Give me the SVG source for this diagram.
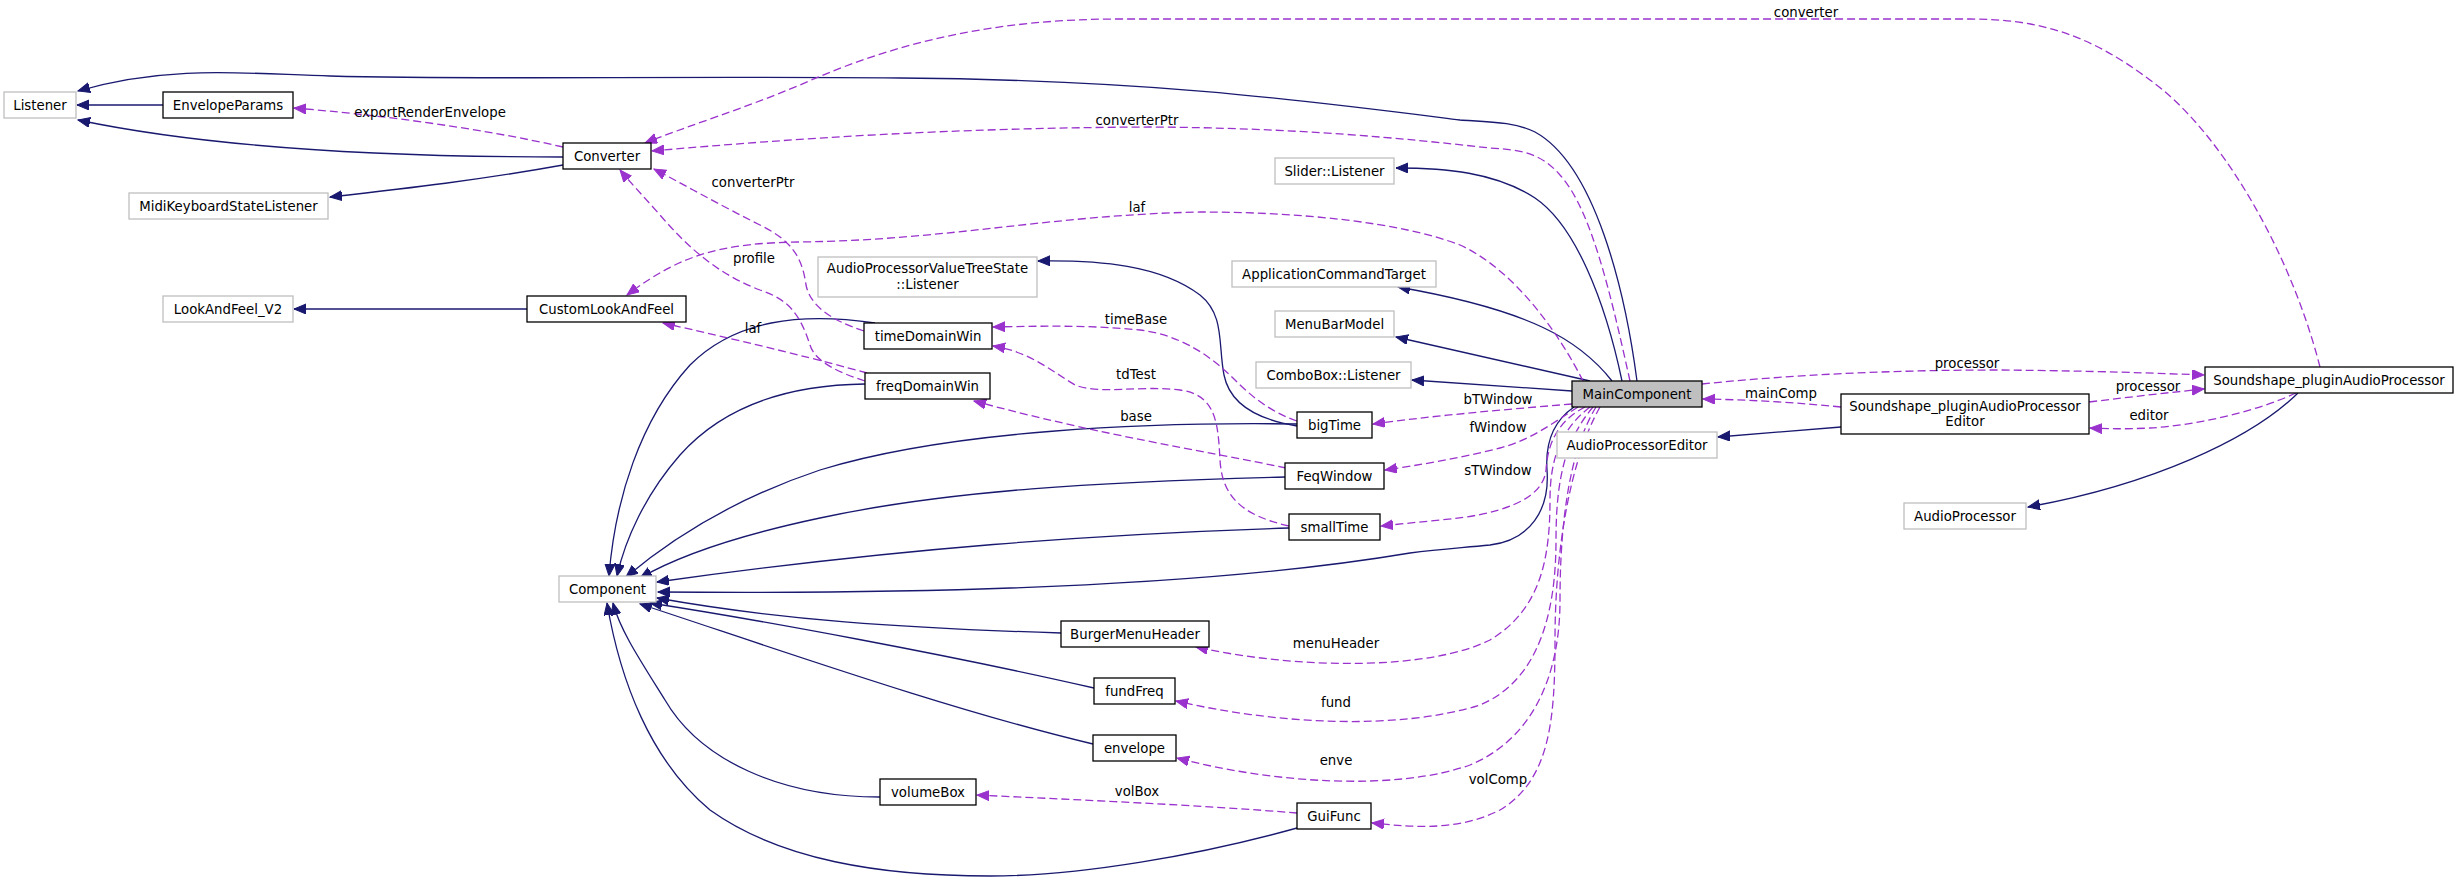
<svg xmlns="http://www.w3.org/2000/svg" width="2459" height="882" viewBox="0 0 2459 882">
<defs>
<style>
.n rect{fill:#fff;stroke:#000;stroke-width:1.3}
.u rect{fill:#fff;stroke:#bfbfbf;stroke-width:1.3}
.cur rect{fill:#bfbfbf;stroke:#000;stroke-width:1.3}
text{font-family:"DejaVu Sans",Verdana,sans-serif;font-size:13.3px;text-anchor:middle;fill:#000}
.inh{fill:none;stroke:#191970;stroke-width:1.3;marker-end:url(#ah)}
.use{fill:none;stroke:#9a32cd;stroke-width:1.3;stroke-dasharray:8,4;marker-end:url(#ap)}
</style>
<marker id="ah" markerWidth="14" markerHeight="11" refX="12" refY="5" orient="auto" markerUnits="userSpaceOnUse"><path d="M0,0 L12,5 L0,10 z" fill="#191970" stroke="#191970" stroke-width="1"/></marker>
<marker id="ap" markerWidth="14" markerHeight="11" refX="12" refY="5" orient="auto" markerUnits="userSpaceOnUse"><path d="M0,0 L12,5 L0,10 z" fill="#9a32cd" stroke="#9a32cd" stroke-width="1"/></marker>
</defs>
<rect width="2459" height="882" fill="#fff"/>
<g id="connectors">
<path class="inh" d="M163,105 L77,105"/>
<path class="inh" d="M563,157 C420,157 230,152 78,120"/>
<path class="inh" d="M563,165 C480,180 410,188 330,197"/>
<path class="inh" d="M1637,381 C1625,290 1595,165 1535,132 C1515,122 1490,122 1460,120 C1300,100 1150,80 900,78 C650,76 480,80 330,76 C250,74 170,64 78,91"/>
<path class="inh" d="M1622,381 C1605,300 1575,225 1535,198 C1495,172 1445,168 1396,168"/>
<path class="inh" d="M1612,381 C1580,340 1530,310 1398,287"/>
<path class="inh" d="M1590,381 L1396,337"/>
<path class="inh" d="M1572,391 L1412,380"/>
<path class="inh" d="M1574,407 C1555,420 1545,440 1547,470 C1550,510 1530,540 1490,545 C1460,548 1440,549 1410,553 C1250,580 1000,595 658,592"/>
<path class="inh" d="M1841,427 L1718,437"/>
<path class="inh" d="M2298,393 C2250,440 2150,485 2028,507"/>
<path class="inh" d="M527,309 L294,309"/>
<path class="inh" d="M875,323 C800,312 735,320 690,365 C640,420 615,500 609,576"/>
<path class="inh" d="M865,384 C780,385 720,410 680,455 C645,495 625,540 617,576"/>
<path class="inh" d="M1297,424 C1150,422 950,430 820,470 C730,500 670,540 626,577"/>
<path class="inh" d="M1297,426 C1260,420 1230,405 1224,375 C1218,345 1225,315 1200,295 C1160,265 1100,260 1038,261"/>
<path class="inh" d="M1285,477 C1100,482 950,490 820,518 C740,535 680,555 640,578"/>
<path class="inh" d="M1289,528 C1100,534 900,548 657,582"/>
<path class="inh" d="M1061,633 C900,628 780,620 657,598"/>
<path class="inh" d="M1094,688 C950,655 760,620 650,603"/>
<path class="inh" d="M1093,744 C950,710 780,650 640,604"/>
<path class="inh" d="M880,797 C780,797 700,760 665,700 C640,660 620,630 613,603"/>
<path class="inh" d="M1297,828 C1200,855 1080,876 990,876 C880,876 780,860 710,810 C650,760 620,680 607,603"/>

<path class="use" d="M563,147 C480,128 380,115 294,108"/>
<path class="use" d="M2320,367 C2290,250 2220,130 2150,80 C2090,35 2040,19 1970,19 L1120,19 C1000,19 900,40 800,85 C740,110 690,125 645,143"/>
<path class="use" d="M1630,381 C1612,300 1592,210 1560,175 C1540,152 1520,150 1490,148 C1400,138 1300,128 1150,127 C950,128 800,138 652,151"/>
<path class="use" d="M864,331 C830,320 810,305 806,285 C802,255 790,240 760,225 C720,205 690,188 654,169"/>
<path class="use" d="M1583,381 C1560,335 1515,270 1460,245 C1400,222 1300,212 1200,212 C1050,215 950,240 800,242 C720,243 680,255 627,295"/>
<path class="use" d="M867,373 C820,360 760,345 663,323"/>
<path class="use" d="M865,381 C840,373 815,362 810,345 C800,315 790,300 760,290 C720,275 690,250 660,215 C645,198 630,182 620,170"/>
<path class="use" d="M1297,421 C1270,412 1250,395 1235,380 C1210,355 1180,335 1140,330 C1090,325 1040,326 993,327"/>
<path class="use" d="M1289,526 C1240,515 1222,495 1220,460 C1218,420 1215,395 1180,390 C1140,385 1100,395 1075,385 C1050,370 1030,352 993,346"/>
<path class="use" d="M1286,468 C1200,450 1100,435 974,401"/>
<path class="use" d="M1841,407 C1800,403 1760,400 1703,399"/>
<path class="use" d="M1702,384 C1800,374 1900,370 2000,370 C2100,371 2150,373 2204,375"/>
<path class="use" d="M2089,402 C2130,397 2165,393 2204,389"/>
<path class="use" d="M2296,393 C2260,410 2200,425 2150,428 C2130,429 2110,429 2090,428"/>
<path class="use" d="M1572,404 C1500,410 1440,415 1373,424"/>
<path class="use" d="M1578,407 C1550,425 1530,440 1500,448 C1460,458 1420,465 1385,470"/>
<path class="use" d="M1585,407 C1560,420 1548,440 1546,470 C1543,500 1500,515 1440,520 C1420,522 1400,524 1381,526"/>
<path class="use" d="M1590,407 C1560,430 1550,460 1550,500 C1550,560 1540,610 1490,640 C1430,670 1300,670 1196,647"/>
<path class="use" d="M1593,407 C1565,440 1556,480 1556,540 C1556,610 1540,680 1480,705 C1400,730 1280,725 1176,701"/>
<path class="use" d="M1596,407 C1570,450 1560,520 1560,600 C1560,680 1530,740 1470,765 C1400,790 1280,785 1177,758"/>
<path class="use" d="M1600,407 C1570,460 1555,550 1555,640 C1555,720 1550,780 1500,810 C1460,830 1420,828 1372,823"/>
<path class="use" d="M1297,813 C1200,805 1080,800 977,795"/>

<text x="430" y="116.5">exportRenderEnvelope</text>
<text x="1806" y="16.5">converter</text>
<text x="1137" y="124.5">converterPtr</text>
<text x="753" y="186.5">converterPtr</text>
<text x="1137" y="211.5">laf</text>
<text x="753" y="332.5">laf</text>
<text x="754" y="262.5">profile</text>
<text x="1136" y="323.5">timeBase</text>
<text x="1136" y="378.5">tdTest</text>
<text x="1136" y="420.5">base</text>
<text x="1137" y="795.5">volBox</text>
<text x="1336" y="647.5">menuHeader</text>
<text x="1336" y="706.5">fund</text>
<text x="1336" y="764.5">enve</text>
<text x="1498" y="783.5">volComp</text>
<text x="1498" y="403.5">bTWindow</text>
<text x="1498" y="431.5">fWindow</text>
<text x="1498" y="474.5">sTWindow</text>
<text x="1781" y="397.5">mainComp</text>
<text x="1967" y="367.5">processor</text>
<text x="2148" y="390.5">processor</text>
<text x="2149" y="419.5">editor</text>
</g>
<g id="Listener" class="u"><rect x="4" y="92" width="72" height="26"/><text x="40" y="109.6">Listener</text></g>
<g id="EnvelopeParams" class="n"><rect x="163" y="92" width="130" height="26"/><text x="228" y="109.6">EnvelopeParams</text></g>
<g id="Converter" class="n"><rect x="563" y="143" width="88" height="26"/><text x="607" y="160.6">Converter</text></g>
<g id="MidiKeyboardStateListener" class="u"><rect x="129" y="193" width="199" height="26"/><text x="228.5" y="210.6">MidiKeyboardStateListener</text></g>
<g id="LookAndFeel_V2" class="u"><rect x="163" y="296" width="130" height="26"/><text x="228" y="313.6">LookAndFeel_V2</text></g>
<g id="CustomLookAndFeel" class="n"><rect x="527" y="296" width="159" height="26"/><text x="606.5" y="313.6">CustomLookAndFeel</text></g>
<g id="APVTSListener" class="u"><rect x="818" y="257" width="219" height="40"/><text x="927.5" y="273">AudioProcessorValueTreeState</text><text x="927.5" y="289">::Listener</text></g>
<g id="timeDomainWin" class="n"><rect x="864" y="323" width="128" height="26"/><text x="928" y="340.6">timeDomainWin</text></g>
<g id="freqDomainWin" class="n"><rect x="865" y="373" width="125" height="26"/><text x="927.5" y="390.6">freqDomainWin</text></g>
<g id="Component" class="u"><rect x="559" y="576" width="97" height="26"/><text x="607.5" y="593.6">Component</text></g>
<g id="BurgerMenuHeader" class="n"><rect x="1061" y="621" width="148" height="26"/><text x="1135" y="638.6">BurgerMenuHeader</text></g>
<g id="fundFreq" class="n"><rect x="1094" y="678" width="81" height="26"/><text x="1134.5" y="695.6">fundFreq</text></g>
<g id="envelope" class="n"><rect x="1093" y="735" width="83" height="26"/><text x="1134.5" y="752.6">envelope</text></g>
<g id="volumeBox" class="n"><rect x="880" y="779" width="96" height="26"/><text x="928" y="796.6">volumeBox</text></g>
<g id="GuiFunc" class="n"><rect x="1297" y="803" width="74" height="26"/><text x="1334" y="820.6">GuiFunc</text></g>
<g id="SliderListener" class="u"><rect x="1275" y="158" width="119" height="26"/><text x="1334.5" y="175.6">Slider::Listener</text></g>
<g id="ApplicationCommandTarget" class="u"><rect x="1232" y="261" width="204" height="26"/><text x="1334" y="278.6">ApplicationCommandTarget</text></g>
<g id="MenuBarModel" class="u"><rect x="1275" y="311" width="119" height="26"/><text x="1334.5" y="328.6">MenuBarModel</text></g>
<g id="ComboBoxListener" class="u"><rect x="1256" y="362" width="155" height="26"/><text x="1333.5" y="379.6">ComboBox::Listener</text></g>
<g id="MainComponent" class="cur"><rect x="1572" y="381" width="130" height="26"/><text x="1637" y="398.6">MainComponent</text></g>
<g id="bigTime" class="n"><rect x="1297" y="412" width="75" height="26"/><text x="1334.5" y="429.6">bigTime</text></g>
<g id="FeqWindow" class="n"><rect x="1285" y="463" width="99" height="26"/><text x="1334.5" y="480.6">FeqWindow</text></g>
<g id="smallTime" class="n"><rect x="1289" y="514" width="91" height="26"/><text x="1334.5" y="531.6">smallTime</text></g>
<g id="AudioProcessorEditor" class="u"><rect x="1557" y="432" width="160" height="26"/><text x="1637" y="449.6">AudioProcessorEditor</text></g>
<g id="PluginEditor" class="n"><rect x="1841" y="394" width="248" height="40"/><text x="1965" y="411">Soundshape_pluginAudioProcessor</text><text x="1965" y="426">Editor</text></g>
<g id="PluginProcessor" class="n"><rect x="2205" y="367" width="248" height="26"/><text x="2329" y="384.6">Soundshape_pluginAudioProcessor</text></g>
<g id="AudioProcessor" class="u"><rect x="1904" y="503" width="122" height="26"/><text x="1965" y="520.6">AudioProcessor</text></g>
</svg>
